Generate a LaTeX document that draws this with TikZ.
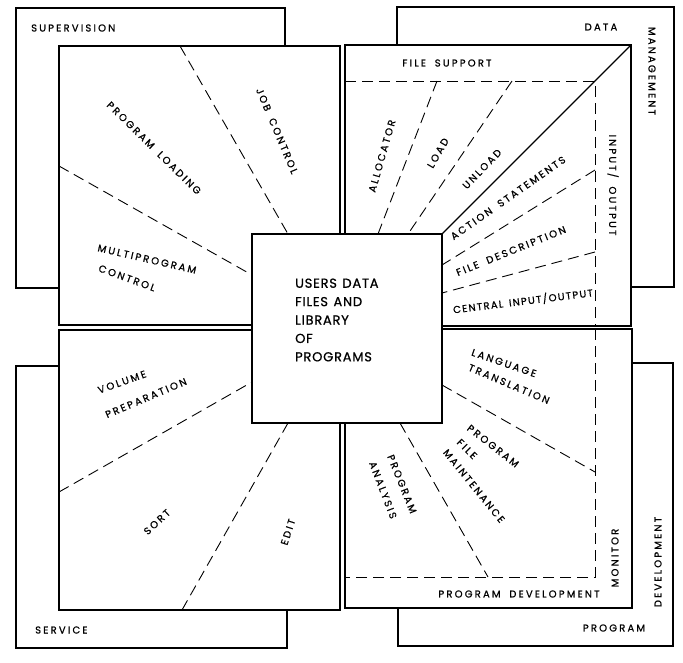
\documentclass[tikz,border=0pt]{standalone}
\usepackage{fontspec}
\newfontfamily\labfont{Poppins}[LetterSpace=22, FakeBold=0.8, WordSpace=1.8]
\newfontfamily\narrowfont{Poppins}[LetterSpace=13, FakeBold=0.8, WordSpace=1.5]
\newfontfamily\corefont{Poppins}[LetterSpace=6, FakeBold=0.8, WordSpace=1.3]
\begin{document}
\begin{tikzpicture}[x=1pt,y=-1pt,
  frame/.style={draw=black, fill=white, line width=1.3pt},
  divider/.style={draw=black, line width=0.9pt, dash pattern=on 11pt off 6pt},
  solidline/.style={draw=black, line width=1.2pt},
  lbl/.style={inner sep=0pt, font=\labfont\fontsize{10pt}{11pt}\selectfont},
  corebox/.style={draw=black, fill=white, line width=1.4pt, minimum width=190pt, minimum height=189pt, inner sep=0pt}]
\useasboundingbox (0,0) rectangle (683,662);
% outer boxes
\draw[frame] (16,8) rectangle (285,288);
\draw[frame] (397,7) rectangle (674,287);
\draw[frame] (16,366) rectangle (287,648);
\draw[frame] (398,363) rectangle (673,646);
% inner panels
\draw[frame] (59,46) rectangle (340,325);
\draw[frame] (345,45) rectangle (631,326);
\draw[frame] (59,330) rectangle (340,610);
\draw[frame] (345,329) rectangle (632,608);
% dividers top-left
\draw[divider] (59,166) -- (252,275);
\draw[divider] (180,46) -- (288,234);
% dividers top-right
\draw[divider] (345,81) -- (595,81) -- (595,326);
\draw[divider] (437,81) -- (378,234);
\draw[divider] (512,81) -- (408,234);
\draw[divider] (595,170) -- (442,265);
\draw[divider] (595,252) -- (442,293);
\draw[solidline] (631,45) -- (442,234);
% dividers bottom-left
\draw[divider] (59,492) -- (252,382);
\draw[divider] (182,610) -- (288,423);
% dividers bottom-right
\draw[divider] (595,329) -- (595,577) -- (345,577);
\draw[divider] (442,385) -- (595,472);
\draw[divider] (400,423) -- (488,577);
% central box
\node[corebox] (core) at (347,328.5) {};
\node[anchor=west, inner sep=0pt, align=left, font=\corefont\fontsize{13pt}{18.4pt}\selectfont] (coretext) at (295,320)
  {USERS DATA\\FILES AND\\LIBRARY\\OF\\PROGRAMS};
% outer labels
\node[lbl, anchor=west] (sup) at (31,28) {SUPERVISION};
\node[lbl] (dat) at (601,27) {DATA};
\node[lbl, rotate=-90] (man) at (652,71) {MANAGEMENT};
\node[lbl, anchor=west] (ser) at (35,630) {SERVICE};
\node[lbl] (prg) at (614,628) {PROGRAM};
\node[lbl, rotate=90] (dev) at (658,562) {DEVELOPMENT};
% top-left labels
\node[lbl, rotate=-44.5] (pl) at (154,148) {PROGRAM LOADING};
\node[lbl, rotate=-67] (jc) at (277,131) {JOB CONTROL};
\node[lbl, rotate=-13] (mp1) at (147,259) {MULTIPROGRAM};
\node[lbl, rotate=-20] (mp2) at (127,278) {CONTROL};
% top-right labels
\node[lbl] (fs) at (447,63) {FILE SUPPORT};
\node[lbl, rotate=74] (al) at (382,156) {ALLOCATOR};
\node[lbl, rotate=60] (ld) at (438,153) {LOAD};
\node[lbl, rotate=46] (ul) at (482,169) {UNLOAD};
\node[lbl, rotate=35] (as) at (508,198) {ACTION STATEMENTS};
\node[lbl, rotate=22] (fd) at (511,251) {FILE DESCRIPTION};
\node[lbl, rotate=7, font=\narrowfont\fontsize{10pt}{11pt}\selectfont] (cio) at (523,301) {CENTRAL INPUT/OUTPUT};
\node[lbl, rotate=-90] (io) at (613,185) {INPUT/ OUTPUT};
% bottom-left labels
\node[lbl, rotate=19.5] (vp1) at (122,382) {VOLUME};
\node[lbl, rotate=23] (vp2) at (146,398) {PREPARATION};
\node[lbl, rotate=43] (so) at (157,522) {SORT};
\node[lbl, rotate=72] (ed) at (288,532) {EDIT};
% bottom-right labels
\node[lbl, rotate=-19] (lt1) at (504,363) {LANGUAGE};
\node[lbl, rotate=-23] (lt2) at (509,384) {TRANSLATION};
\node[lbl, rotate=-38] (pf1) at (493,446) {PROGRAM};
\node[lbl, rotate=-45] (pf2) at (467,449) {FILE};
\node[lbl, rotate=-51] (pf3) at (474,486) {MAINTENANCE};
\node[lbl, rotate=-68] (pa1) at (402,484) {PROGRAM};
\node[lbl, rotate=-69] (pa2) at (383,490) {ANALYSIS};
\node[lbl] (pd) at (519,594) {PROGRAM DEVELOPMENT};
\node[lbl, rotate=90] (mo) at (615,558) {MONITOR};
\end{tikzpicture}
\end{document}
